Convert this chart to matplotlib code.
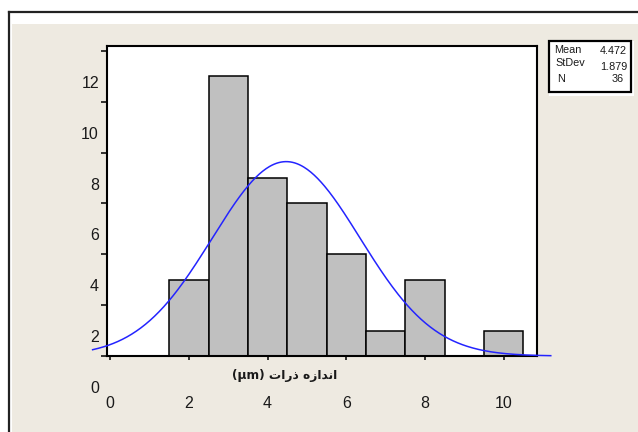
import numpy as np
import matplotlib.pyplot as plt
import matplotlib.transforms as mtransforms
from matplotlib.patches import Rectangle
from matplotlib.lines import Line2D

# histogram: bin centres (width 1) and counts
bin_centers = [2, 3, 4, 5, 6, 7, 8, 9, 10]
counts = [3, 11, 7, 6, 4, 1, 3, 0, 1]
x_ticks = [0, 2, 4, 6, 8, 10]
y_ticks = [0, 2, 4, 6, 8, 10, 12]

# fitted normal from the summary box
mean, stdev, n = 4.472, 1.879, 36
stat_names = ["Mean", "StDev", "N"]
stat_values = ["4.472", "1.879", "36"]

# "اندازه ذرات (µm)" written in shaped, visual (left-to-right) order
xlabel = "(µm) ﺕﺍﺭﺫ ﻩﺯﺍﺪﻧﺍ"

W, H = 638, 432
fig = plt.figure(figsize=(W / 100, H / 100), dpi=100)
fig.patch.set_facecolor('white')


def fx(px):
    return px / W


def fy(py):
    return 1 - py / H


# beige panel and outer frame
fig.patches.append(Rectangle((fx(12), 0), 1 - fx(12), fy(24), transform=fig.transFigure,
                             facecolor='#eeeae1', edgecolor='none', zorder=-2))
fig.add_artist(Line2D([fx(9), fx(9)], [0, fy(11.5)], color='#222222', lw=1.6))
fig.add_artist(Line2D([fx(9), 1], [fy(11.5), fy(11.5)], color='#222222', lw=1.6))

ax = fig.add_axes([fx(107), fy(356), fx(537) - fx(107), fy(46) - fy(356)])
ax.set_facecolor('white')

ax.bar(bin_centers, counts, width=1, color='#c0c0c0', edgecolor='black', linewidth=1.1, zorder=2)

xs = np.linspace(-0.45, 11.2, 400)
ys = n * np.exp(-0.5 * ((xs - mean) / stdev) ** 2) / (stdev * np.sqrt(2 * np.pi))
ax.plot(xs, ys, color='#2424ff', lw=1.1, clip_on=False, zorder=3)

ax.set_xlim(-0.084, 10.85)
ax.set_ylim(0, 12.19)
for s in ax.spines.values():
    s.set_linewidth(1.5)
    s.set_color('black')

tick_font = ['Liberation Sans', 'DejaVu Sans']
ax.set_xticks(x_ticks)
ax.set_xticklabels([str(v) for v in x_ticks], family=tick_font, fontsize=11.5, color='#1a1a1a')
ax.set_yticks(y_ticks)
ax.set_yticklabels([str(v) for v in y_ticks], family=tick_font, fontsize=11.5, color='#1a1a1a')
ax.tick_params(axis='y', length=4.3, width=1.1, pad=1.5)
ax.tick_params(axis='x', length=3, width=1.1, pad=26)

# y labels sit about 31 px below their ticks in the original
shift = mtransforms.ScaledTranslation(0, -0.31, fig.dpi_scale_trans)
for lab in ax.get_yticklabels():
    lab.set_transform(lab.get_transform() + shift)

fig.text(fx(285), fy(375), xlabel, ha='center', va='center', fontsize=8.8,
         fontweight='bold', family=['DejaVu Sans', 'Noto Sans'], color='#1a1a1a')

# summary box
fig.patches.append(Rectangle((fx(549), fy(96)), (634 - 549) / W, (96 - 41) / H,
                             transform=fig.transFigure, facecolor='white', edgecolor='none', zorder=1))
fig.patches.append(Rectangle((fx(549), fy(92)), (631 - 549) / W, (92 - 41) / H,
                             transform=fig.transFigure, facecolor='white', edgecolor='black',
                             lw=1.6, zorder=2))
name_pos = [(554, 50), (555, 63), (557, 79)]
value_pos = [(627, 51), (627, 67), (624, 79)]
for name, val, (nx, ny), (vx, vy) in zip(stat_names, stat_values, name_pos, value_pos):
    fig.text(fx(nx), fy(ny), name, ha='left', va='center', fontsize=7.8, family=tick_font, color='#1a1a1a')
    fig.text(fx(vx), fy(vy), val, ha='right', va='center', fontsize=7.8, family=tick_font, color='#1a1a1a')

fig.savefig('out.png', dpi=100)
